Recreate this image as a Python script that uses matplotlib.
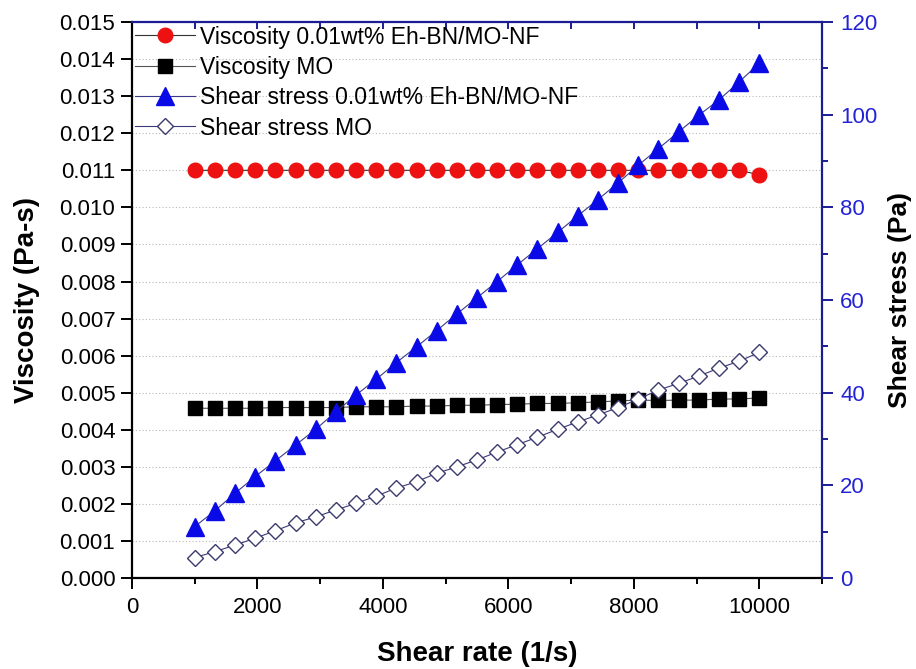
import matplotlib
matplotlib.use('Agg')
import matplotlib.pyplot as plt
from matplotlib.ticker import MultipleLocator, FormatStrFormatter

plt.rcParams['font.family'] = ['Liberation Sans', 'DejaVu Sans']

# shear rate sweep (1/s), 29 steps from 1000 to 10000
shear_rate = [1000, 1321, 1643, 1964, 2286, 2607, 2929, 3250, 3571, 3893,
              4214, 4536, 4857, 5179, 5500, 5821, 6143, 6464, 6786, 7107,
              7429, 7750, 8071, 8393, 8714, 9036, 9357, 9679, 10000]

visc_nf = [0.0110] * 28 + [0.01088]
visc_mo = [0.00458, 0.00458, 0.00458, 0.00458, 0.00460, 0.00460, 0.00460, 0.00460,
           0.00462, 0.00462, 0.00462, 0.00464, 0.00464, 0.00466, 0.00466, 0.00468,
           0.00469, 0.00471, 0.00471, 0.00473, 0.00475, 0.00478, 0.00480, 0.00479,
           0.00480, 0.00480, 0.00483, 0.00483, 0.00486]

stress_nf = [11.1, 14.5, 18.3, 21.9, 25.3, 28.7, 32.1, 35.9, 39.5, 42.9,
             46.5, 49.9, 53.4, 57.0, 60.5, 64.0, 67.6, 71.1, 74.6, 78.2,
             81.7, 85.3, 89.1, 92.7, 96.3, 99.9, 103.2, 107.1, 111.1]
stress_mo = [4.4, 5.7, 7.1, 8.6, 10.2, 11.9, 13.2, 14.7, 16.1, 17.7,
             19.4, 20.8, 22.6, 24.0, 25.5, 27.2, 28.8, 30.4, 32.1, 33.7,
             35.2, 36.8, 38.6, 40.6, 42.0, 43.6, 45.3, 46.8, 48.7]

navy = '#1c1c96'
blue_txt = '#2323d6'

fig = plt.figure(figsize=(9.16, 6.69), dpi=100)
ax = fig.add_axes([0.1441, 0.136, 0.7533, 0.831])
ax2 = ax.twinx()

l1, = ax.plot(shear_rate, visc_nf, color='#333333', lw=0.8, marker='o', ms=10.5,
              mfc='#ee1111', mec='#ee1111', label='Viscosity 0.01wt% Eh-BN/MO-NF')
l2, = ax.plot(shear_rate, visc_mo, color='#555555', lw=0.8, marker='s', ms=10,
              mfc='black', mec='black', label='Viscosity MO')
l3, = ax2.plot(shear_rate, stress_nf, color='#3a3a8a', lw=0.8, marker='^', ms=12.5,
               mfc='#0a0ae6', mec='#0a0ae6', label='Shear stress 0.01wt% Eh-BN/MO-NF')
l4, = ax2.plot(shear_rate, stress_mo, color='#3a3a7a', lw=0.8, marker='D', ms=8.5,
               mfc='white', mec='#3a3a6e', mew=1.0, label='Shear stress MO')

ax.set_xlim(0, 11000)
ax.set_ylim(0, 0.015)
ax2.set_ylim(0, 120)

ax.xaxis.set_major_locator(MultipleLocator(2000))
ax.xaxis.set_minor_locator(MultipleLocator(1000))
ax.yaxis.set_major_locator(MultipleLocator(0.001))
ax.yaxis.set_major_formatter(FormatStrFormatter('%.3f'))
ax2.yaxis.set_major_locator(MultipleLocator(20))
ax2.yaxis.set_minor_locator(MultipleLocator(10))

ax.grid(axis='y', which='major', color='#b8b8b8', linestyle=(0, (1, 2)), lw=0.8)
ax.set_axisbelow(True)

for a in (ax, ax2):
    for s in a.spines.values():
        s.set_linewidth(1.6)
ax.spines['left'].set_color('black')
ax.spines['bottom'].set_color('black')
ax2.spines['right'].set_color(navy)
ax2.spines['top'].set_color(navy)
ax2.spines['left'].set_visible(False)
ax2.spines['bottom'].set_visible(False)
ax.spines['top'].set_visible(False)
ax.spines['right'].set_visible(False)

ax.tick_params(axis='x', which='major', direction='out', length=8, width=1.4, labelsize=16, pad=6)
ax.tick_params(axis='x', which='minor', direction='out', length=4, width=1.4)
ax.tick_params(axis='y', which='major', direction='out', length=8, width=1.4, labelsize=16, pad=4)
ax2.tick_params(axis='y', which='major', direction='out', length=8, width=1.4, color=navy,
                labelcolor=blue_txt, labelsize=16, pad=5)
ax2.tick_params(axis='y', which='minor', direction='out', length=4, width=1.4, color=navy)

# inward ticks along the top border
top = ax.secondary_xaxis('top')
top.xaxis.set_major_locator(MultipleLocator(1000))
top.tick_params(axis='x', direction='in', length=5, width=1.4, color=navy, labeltop=False)
top.spines['top'].set_visible(False)

ax.set_xlabel('Shear rate (1/s)', fontsize=20, fontweight='bold', labelpad=16)
ax.set_ylabel('Viscosity (Pa-s)', fontsize=20, fontweight='bold', labelpad=14)
ax2.set_ylabel('Shear stress (Pa)', fontsize=19, fontweight='bold', labelpad=8)

leg = ax2.legend(handles=[l1, l2, l3, l4], loc='upper left', frameon=False,
                 fontsize=16.5, handlelength=2.6, handletextpad=0.2,
                 labelspacing=0.32, borderaxespad=0.1, borderpad=0.05)

plt.savefig('out.png', dpi=100)
